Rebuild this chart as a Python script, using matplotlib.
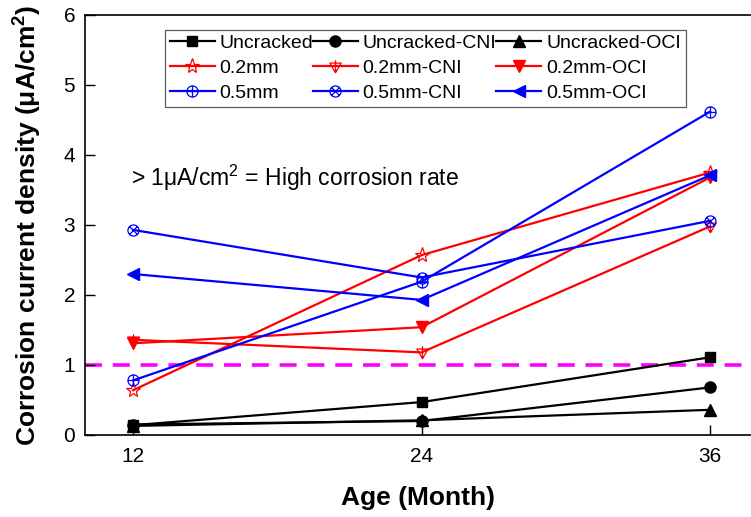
import matplotlib
matplotlib.use('Agg')
import matplotlib.pyplot as plt
from matplotlib.path import Path

plt.rcParams['font.family'] = ['Liberation Sans', 'DejaVu Sans']
plt.rcParams['mathtext.fontset'] = 'custom'
plt.rcParams['mathtext.rm'] = 'Liberation Sans'
plt.rcParams['mathtext.bf'] = 'Liberation Sans:bold'

# Data
age = [12, 24, 36]
uncracked = [0.14, 0.47, 1.11]
uncracked_cni = [0.15, 0.20, 0.68]
uncracked_oci = [0.13, 0.21, 0.36]
mm02 = [0.64, 2.57, 3.75]
mm02_cni = [1.36, 1.18, 2.98]
mm02_oci = [1.31, 1.54, 3.68]
mm05 = [0.78, 2.19, 4.62]
mm05_cni = [2.93, 2.25, 3.06]
mm05_oci = [2.30, 1.93, 3.71]

# custom markers
circ = Path.unit_circle()
plus_lines = Path([(-1, 0), (1, 0), (0, -1), (0, 1)],
                  [Path.MOVETO, Path.LINETO, Path.MOVETO, Path.LINETO])
s = 0.7071
x_lines = Path([(-s, -s), (s, s), (-s, s), (s, -s)],
               [Path.MOVETO, Path.LINETO, Path.MOVETO, Path.LINETO])
circle_plus = Path.make_compound_path(circ, plus_lines)
circle_x = Path.make_compound_path(circ, x_lines)
tri_v_plus = Path.make_compound_path(
    Path([(-1, 0.6), (1, 0.6), (0, -1.1), (-1, 0.6)],
         [Path.MOVETO, Path.LINETO, Path.LINETO, Path.CLOSEPOLY]),
    Path([(0, 1.1), (0, -1.1)], [Path.MOVETO, Path.LINETO]))

fig = plt.figure(figsize=(7.51, 5.17), dpi=100)
ax = fig.add_axes([85 / 751, 82 / 517, 666 / 751, 420 / 517])

ax.axhline(1, color='#ff00ff', lw=2.6, ls=(0, (4.7, 3.0)), zorder=1)

lw = 1.6
series = [
    (uncracked, 'Uncracked', 'k', 's', 'k', 7),
    (uncracked_cni, 'Uncracked-CNI', 'k', 'o', 'k', 8),
    (uncracked_oci, 'Uncracked-OCI', 'k', '^', 'k', 8),
    (mm02, '0.2mm', 'red', '*', 'none', 11),
    (mm02_cni, '0.2mm-CNI', 'red', tri_v_plus, 'none', 9),
    (mm02_oci, '0.2mm-OCI', 'red', 'v', 'red', 8),
    (mm05, '0.5mm', 'blue', circle_plus, 'none', 8),
    (mm05_cni, '0.5mm-CNI', 'blue', circle_x, 'none', 8),
    (mm05_oci, '0.5mm-OCI', 'blue', '<', 'blue', 9),
]
handles = {}
for vals, label, color, marker, mfc, ms in series:
    h, = ax.plot(age, vals, color=color, lw=lw, marker=marker, ms=ms,
                 mfc=mfc, mec=color, mew=0.9 if mfc == 'none' else 1,
                 label=label, zorder=3)
    handles[label] = h

order = ['Uncracked', '0.2mm', '0.5mm',
         'Uncracked-CNI', '0.2mm-CNI', '0.5mm-CNI',
         'Uncracked-OCI', '0.2mm-OCI', '0.5mm-OCI']
leg = ax.legend([handles[k] for k in order], order, ncol=3,
                loc='upper left', bbox_to_anchor=(0.12, 0.965),
                fontsize=14, frameon=True, fancybox=False,
                edgecolor='#333333', handlelength=2.3, handletextpad=0.25,
                columnspacing=0.0, labelspacing=0.38, borderpad=0.25,
                borderaxespad=0)
leg.get_frame().set_linewidth(0.9)

ax.text(11.9, 3.67, r'> 1μA/cm$^2$ = High corrosion rate', fontsize=16.5,
        va='center', ha='left')

ax.set_xlim(10, 37.7)
ax.set_ylim(0, 6)
ax.set_xticks(age)
ax.set_yticks(range(0, 7))
ax.tick_params(direction='in', length=7, width=1, labelsize=15)
ax.tick_params(axis='x', pad=9)
ax.tick_params(axis='y', pad=7)
ax.spines['right'].set_visible(False)
for sp in ['left', 'bottom', 'top']:
    ax.spines[sp].set_linewidth(1.2)

ax.set_xlabel('Age (Month)', fontsize=19, fontweight='bold', labelpad=14)
ax.set_ylabel(r'Corrosion current density (μA/cm$^\mathbf{2}$)', fontsize=19,
              fontweight='bold', labelpad=15)

fig.savefig('out.png', dpi=100)
